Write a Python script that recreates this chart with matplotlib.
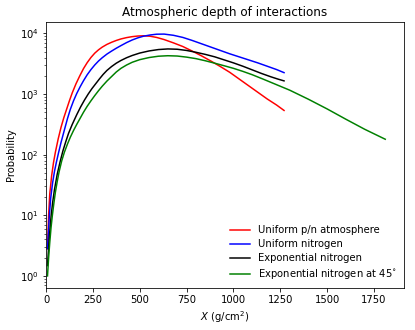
import matplotlib
matplotlib.use("Agg")
import numpy as np
import matplotlib.pyplot as plt

# values: depth X in g/cm^2 and probability in decades (log10)
x_red = [8, 14, 20, 30, 40, 50, 65, 80, 95, 110, 125, 140, 160, 180, 200, 220,
         240, 260, 280, 300, 325, 350, 375, 400, 430, 460, 490, 520, 555, 590,
         630, 680, 730, 780, 830, 880, 930, 980, 1030, 1080, 1130, 1180, 1230, 1270]
dec_red = [0.45, 1.0, 1.35, 1.65, 1.87, 2.04, 2.26, 2.45, 2.61, 2.75, 2.89, 3.02,
           3.17, 3.30, 3.42, 3.52, 3.605, 3.675, 3.73, 3.775, 3.82, 3.855, 3.885,
           3.91, 3.932, 3.948, 3.958, 3.962, 3.955, 3.935, 3.90, 3.845, 3.785,
           3.71, 3.63, 3.545, 3.455, 3.36, 3.25, 3.14, 3.03, 2.92, 2.82, 2.73]

x_blue = [8, 18, 25, 35, 45, 55, 66, 80, 100, 115, 130, 147, 164, 182, 200, 220,
          240, 260, 280, 300, 325, 350, 375, 400, 430, 460, 490, 520, 555, 590,
          630, 680, 730, 780, 830, 880, 930, 980, 1030, 1080, 1130, 1180, 1230, 1270]
dec_blue = [0.45, 1.0, 1.28, 1.53, 1.72, 1.87, 2.02, 2.2, 2.43, 2.6, 2.75, 2.89,
            3.01, 3.12, 3.22, 3.32, 3.405, 3.48, 3.545, 3.6, 3.66, 3.71, 3.757,
            3.80, 3.85, 3.893, 3.928, 3.955, 3.975, 3.988, 3.99, 3.97, 3.935,
            3.885, 3.83, 3.775, 3.72, 3.665, 3.615, 3.565, 3.515, 3.46, 3.405, 3.354]

x_black = [8, 15, 20, 27, 35, 45, 60, 75, 90, 105, 120, 140, 164, 185, 205, 225,
           245, 265, 285, 305, 325, 350, 375, 400, 430, 460, 500, 550, 600, 650,
           700, 750, 800, 850, 900, 950, 1000, 1050, 1100, 1150, 1200, 1240, 1270]
dec_black = [0.17, 0.52, 0.72, 0.98, 1.2, 1.42, 1.68, 1.88, 2.06, 2.21, 2.35, 2.5,
             2.66, 2.79, 2.9, 3.0, 3.09, 3.17, 3.25, 3.325, 3.39, 3.455, 3.51,
             3.555, 3.6, 3.637, 3.677, 3.712, 3.735, 3.745, 3.74, 3.72, 3.69,
             3.655, 3.615, 3.565, 3.515, 3.46, 3.4, 3.34, 3.285, 3.245, 3.218]

x_green = [8, 14, 20, 27, 34, 42, 50, 60, 70, 84, 98, 115, 130, 147, 164, 182,
           200, 220, 240, 260, 280, 300, 325, 350, 375, 400, 430, 460, 500, 550,
           600, 650, 700, 750, 800, 850, 900, 950, 1000, 1050, 1100, 1160, 1230,
           1300, 1400, 1500, 1600, 1700, 1810]
dec_green = [0.0, 0.3, 0.55, 0.8, 1.0, 1.2, 1.38, 1.56, 1.72, 1.9, 2.04, 2.18,
             2.29, 2.4, 2.5, 2.6, 2.7, 2.8, 2.89, 2.975, 3.055, 3.13, 3.215, 3.29,
             3.365, 3.425, 3.48, 3.525, 3.568, 3.603, 3.625, 3.633, 3.628, 3.61,
             3.585, 3.55, 3.51, 3.468, 3.425, 3.375, 3.32, 3.245, 3.155, 3.065,
             2.915, 2.755, 2.585, 2.42, 2.255]

fig = plt.figure(figsize=(415 / 72, 330 / 72), dpi=72)
ax = fig.add_axes([46 / 415, 1 - 288 / 330, 358 / 415, 266 / 330])

ax.plot(x_red, 10 ** np.array(dec_red), color="red", label="Uniform p/n atmosphere")
ax.plot(x_blue, 10 ** np.array(dec_blue), color="blue", label="Uniform nitrogen")
ax.plot(x_black, 10 ** np.array(dec_black), color="black", label="Exponential nitrogen")
ax.plot(x_green, 10 ** np.array(dec_green), color="green",
        label=r"Exponential nitrogen at 45$^{\circ}$")

ax.set_yscale("log")
ax.set_xlim(0, 1910)
ax.set_xticks([0, 250, 500, 750, 1000, 1250, 1500, 1750])
ax.set_title("Atmospheric depth of interactions")
ax.set_xlabel(r"$X$ (g/cm$^2$)")
ax.set_ylabel("Probability")
ax.legend(loc="lower right", frameon=False, labelspacing=0.4, borderaxespad=0.3)

fig.savefig("out.png", dpi=72)
